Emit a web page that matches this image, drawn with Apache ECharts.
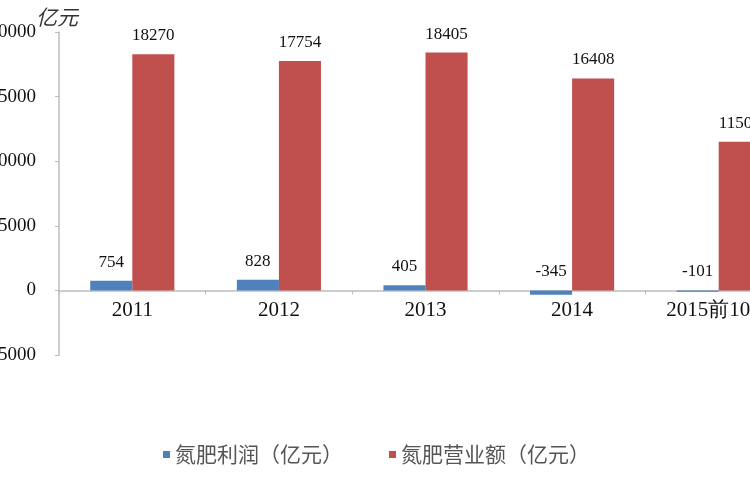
<!DOCTYPE html>
<html>
<head>
<meta charset="utf-8">
<script src="https://cdn.jsdelivr.net/npm/echarts@6/dist/echarts.min.js"></script>
<style>
html,body{margin:0;padding:0;background:#fff;}
#chart{width:750px;height:500px;}
</style>
</head>
<body>
<div id="chart"></div>
<script>
var categories = ['2011', '2012', '2013', '2014', '2015前10月'];
var profitValues = [754, 828, 405, -345, -101];
var revenueValues = [18270, 17754, 18405, 16408, 11507];
var seriesNames = ['氮肥利润（亿元）', '氮肥营业额（亿元）'];
var unitLabel = '亿元';

var chart = echarts.init(document.getElementById('chart'));
var serif = '"Liberation Serif", "Times New Roman", serif';
var cjk = '"Noto Sans CJK SC", sans-serif';
chart.setOption({
  animation: false,
  textStyle: {fontFamily: serif},
  title: {
    text: unitLabel,
    left: 31, top: 2,
    textStyle: {fontFamily: cjk, fontSize: 21, fontWeight: 'normal', fontStyle: 'italic', color: '#333'}
  },
  legend: {
    bottom: 30,
    left: 158,
    itemWidth: 7, itemHeight: 7, itemGap: 46,
    icon: 'rect',
    textStyle: {fontFamily: cjk, fontSize: 21, color: '#555'},
    data: seriesNames
  },
  grid: {left: 59, top: 32, width: 733, height: 323, containLabel: false, outerBoundsMode: 'none'},
  xAxis: {
    type: 'category',
    data: categories,
    axisLine: {onZero: true, lineStyle: {color: '#bdbdbd', width: 1.5}},
    axisTick: {show: true, length: 4, lineStyle: {color: '#bdbdbd'}},
    axisLabel: {fontFamily: serif, fontSize: 21, color: '#111', margin: -55, interval: 0}
  },
  yAxis: {
    type: 'value',
    min: -5000, max: 20000, interval: 5000,
    axisLine: {show: true, lineStyle: {color: '#bdbdbd', width: 1.5}},
    axisTick: {show: true, length: 4, lineStyle: {color: '#bdbdbd'}},
    splitLine: {show: false},
    axisLabel: {fontFamily: serif, fontSize: 19, color: '#111', margin: 23, formatter: function (v) { return String(v); }}
  },
  series: [
    {
      name: seriesNames[0], type: 'bar', data: profitValues,
      barWidth: '28.7%', barGap: '0%',
      itemStyle: {color: '#4F81BD'},
      label: {show: true, position: 'top', distance: 10, fontFamily: serif, fontSize: 17, color: '#111'}
    },
    {
      name: seriesNames[1], type: 'bar', data: revenueValues,
      barWidth: '28.7%', barGap: '0%',
      itemStyle: {color: '#C0504D'},
      label: {show: true, position: 'top', distance: 10, fontFamily: serif, fontSize: 17, color: '#111'}
    }
  ]
});
</script>
</body>
</html>
